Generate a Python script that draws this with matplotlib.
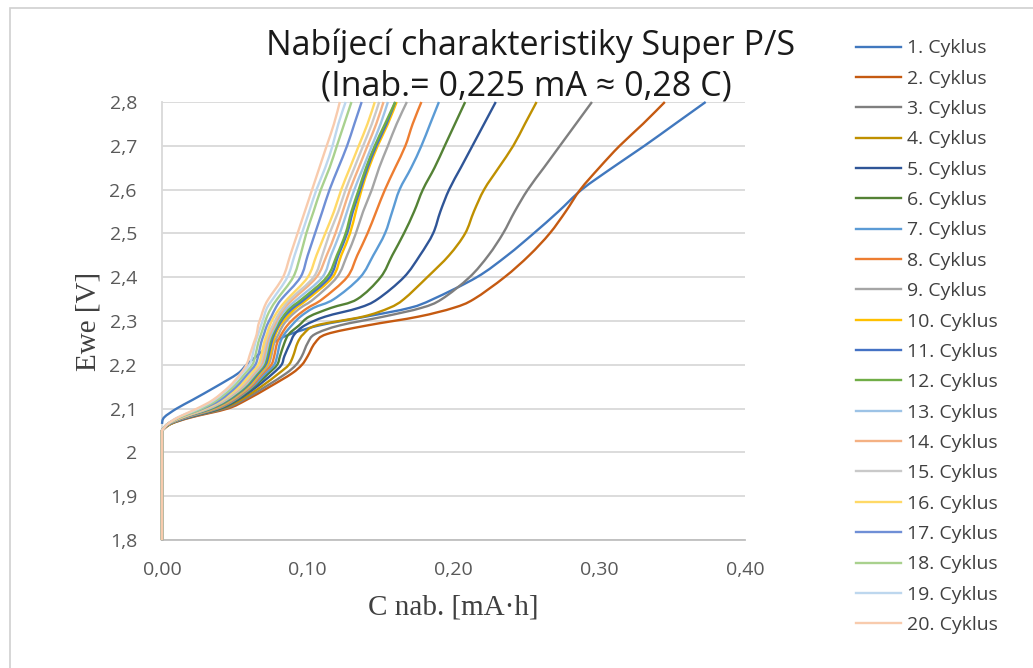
import numpy as np
import matplotlib
matplotlib.use("Agg")
import matplotlib.pyplot as plt
from matplotlib.ticker import FuncFormatter, MultipleLocator
from matplotlib.patches import Rectangle, PathPatch
from matplotlib.path import Path
from matplotlib.lines import Line2D

plt.rcParams['font.family'] = ['Open Sans', 'DejaVu Sans']

nan = np.nan

# voltage levels [V] at which the charge capacity of every cycle was read
ewe = [1.80, 2.05, 2.065, 2.08, 2.10, 2.12, 2.15, 2.18, 2.20, 2.22, 2.25, 2.27, 2.29,
       2.31, 2.33, 2.35, 2.40, 2.45, 2.50, 2.55, 2.60, 2.65, 2.70, 2.75, 2.80]

# charge capacity [mA.h] per cycle at the voltage levels above
cyc01 = [nan, nan, 0.000, 0.0015, 0.010, 0.021, 0.037, 0.052, 0.058, 0.065, 0.076, 0.088, 0.108,
         0.140, 0.170, 0.186, 0.216, 0.237, 0.255, 0.272, 0.288, 0.309, 0.331, 0.352, 0.373]
cyc02 = [0, 0, 0.006, 0.020, 0.045, 0.058, 0.074, 0.089, 0.096, 0.100, 0.105, 0.113, 0.141,
         0.176, 0.200, 0.214, 0.235, 0.252, 0.266, 0.277, 0.287, 0.300, 0.314, 0.330, 0.345]
cyc03 = [0, 0, 0.006, 0.019, 0.043, 0.056, 0.071, 0.085, 0.092, 0.096, 0.100, 0.105, 0.122,
         0.152, 0.178, 0.192, 0.211, 0.224, 0.234, 0.242, 0.251, 0.262, 0.273, 0.284, 0.295]
cyc04 = [0, 0, 0.006, 0.018, 0.041, 0.054, 0.068, 0.080, 0.087, 0.090, 0.093, 0.097, 0.106,
         0.138, 0.156, 0.166, 0.182, 0.197, 0.208, 0.214, 0.221, 0.231, 0.241, 0.249, 0.257]
cyc05 = [0, 0, 0.005, 0.018, 0.040, 0.052, 0.065, 0.076, 0.082, 0.084, 0.088, 0.091, 0.098,
         0.112, 0.135, 0.148, 0.166, 0.177, 0.186, 0.191, 0.197, 0.205, 0.213, 0.221, 0.229]
cyc06 = [0, 0, 0.005, 0.017, 0.039, 0.051, 0.063, 0.073, 0.079, 0.081, 0.084, 0.087, 0.094,
         0.101, 0.116, 0.134, 0.150, 0.158, 0.166, 0.173, 0.179, 0.187, 0.194, 0.201, 0.208]
cyc07 = [0, 0, 0.005, 0.017, 0.038, 0.050, 0.062, 0.071, 0.077, 0.079, 0.081, 0.084, 0.089,
         0.095, 0.104, 0.118, 0.136, 0.145, 0.153, 0.158, 0.163, 0.171, 0.178, 0.184, 0.190]
cyc08 = [0, 0, 0.005, 0.016, 0.037, 0.049, 0.061, 0.069, 0.075, 0.077, 0.079, 0.082, 0.086,
         0.092, 0.100, 0.110, 0.127, 0.134, 0.141, 0.147, 0.153, 0.160, 0.167, 0.172, 0.178]
cyc09 = [0, 0, 0.005, 0.016, 0.036, 0.048, 0.060, 0.068, 0.073, 0.075, 0.077, 0.080, 0.083,
         0.088, 0.095, 0.104, 0.120, 0.127, 0.133, 0.138, 0.144, 0.149, 0.155, 0.161, 0.168]
cyc10 = [0, 0, 0.005, 0.015, 0.035, 0.047, 0.059, 0.067, 0.072, 0.074, 0.076, 0.078, 0.081,
         0.086, 0.092, 0.100, 0.117, 0.123, 0.129, 0.133, 0.137, 0.142, 0.148, 0.155, 0.161]
cyc11 = [0, 0, 0.005, 0.015, 0.034, 0.046, 0.058, 0.066, 0.071, 0.073, 0.075, 0.077, 0.080,
         0.084, 0.090, 0.098, 0.115, 0.121, 0.127, 0.131, 0.136, 0.141, 0.147, 0.154, 0.160]
cyc12 = [0, 0, 0.004, 0.014, 0.033, 0.045, 0.057, 0.065, 0.070, 0.072, 0.074, 0.076, 0.079,
         0.083, 0.088, 0.096, 0.113, 0.120, 0.126, 0.130, 0.135, 0.140, 0.146, 0.153, 0.160]
cyc13 = [0, 0, 0.004, 0.014, 0.032, 0.044, 0.056, 0.064, 0.069, 0.071, 0.073, 0.075, 0.078,
         0.081, 0.086, 0.093, 0.110, 0.116, 0.122, 0.127, 0.132, 0.138, 0.144, 0.150, 0.155]
cyc14 = [0, 0, 0.004, 0.014, 0.031, 0.043, 0.055, 0.063, 0.068, 0.070, 0.072, 0.074, 0.077,
         0.080, 0.084, 0.090, 0.106, 0.113, 0.119, 0.124, 0.129, 0.135, 0.141, 0.147, 0.152]
cyc15 = [0, 0, 0.004, 0.013, 0.030, 0.042, 0.054, 0.062, 0.067, 0.069, 0.071, 0.073, 0.076,
         0.079, 0.083, 0.088, 0.104, 0.110, 0.115, 0.121, 0.126, 0.132, 0.138, 0.144, 0.149]
cyc16 = [0, 0, 0.004, 0.013, 0.029, 0.041, 0.053, 0.061, 0.066, 0.068, 0.070, 0.072, 0.074,
         0.077, 0.081, 0.086, 0.100, 0.106, 0.112, 0.118, 0.123, 0.129, 0.135, 0.141, 0.146]
cyc17 = [0, 0, 0.004, 0.012, 0.028, 0.040, 0.051, 0.059, 0.064, 0.066, 0.068, 0.070, 0.072,
         0.075, 0.078, 0.082, 0.095, 0.100, 0.105, 0.110, 0.115, 0.121, 0.127, 0.132, 0.137]
cyc18 = [0, 0, 0.004, 0.012, 0.027, 0.038, 0.049, 0.057, 0.062, 0.064, 0.066, 0.068, 0.070,
         0.072, 0.075, 0.079, 0.090, 0.095, 0.099, 0.104, 0.109, 0.115, 0.120, 0.125, 0.130]
cyc19 = [0, 0, 0.004, 0.011, 0.025, 0.036, 0.047, 0.055, 0.060, 0.062, 0.064, 0.066, 0.068,
         0.070, 0.072, 0.076, 0.086, 0.091, 0.096, 0.101, 0.106, 0.112, 0.117, 0.121, 0.126]
cyc20 = [0, 0, 0.004, 0.011, 0.024, 0.035, 0.046, 0.054, 0.058, 0.060, 0.063, 0.065, 0.066,
         0.068, 0.070, 0.073, 0.083, 0.088, 0.093, 0.098, 0.103, 0.108, 0.113, 0.118, 0.122]

cycles = [cyc01, cyc02, cyc03, cyc04, cyc05, cyc06, cyc07, cyc08, cyc09, cyc10,
          cyc11, cyc12, cyc13, cyc14, cyc15, cyc16, cyc17, cyc18, cyc19, cyc20]
labels = [f"{i}. Cyklus" for i in range(1, 21)]
colors = ['#4178BE', '#C55A11', '#7F7F7F', '#BF9000', '#2F5597', '#548235',
          '#5B9BD5', '#ED7D31', '#A5A5A5', '#FFC000', '#4472C4', '#70AD47',
          '#9DC3E6', '#F4B183', '#C9C9C9', '#FFD966', '#6F8FD6', '#A9D18E',
          '#BDD7EE', '#F8CBAD']


def smooth_path(x, y):
    # Excel-like smoothed line: Catmull-Rom segments as cubic Bezier curves,
    # straight where the curve runs along the axis (same x)
    x = np.asarray(x, float)
    y = np.asarray(y, float)
    ok = ~np.isnan(x)
    p = np.column_stack([x[ok], y[ok]])
    n = len(p)
    verts = [p[0]]
    codes = [Path.MOVETO]
    for i in range(n - 1):
        if p[i, 0] == p[i + 1, 0]:
            verts.append(p[i + 1])
            codes.append(Path.LINETO)
            continue
        p0 = p[i - 1] if i > 0 and p[i - 1, 0] != p[i, 0] else p[i]
        p3 = p[i + 2] if i + 2 < n else p[i + 1]
        c1 = p[i] + (p[i + 1] - p0) / 6
        c2 = p[i + 1] - (p3 - p[i]) / 6
        verts += [c1, c2, p[i + 1]]
        codes += [Path.CURVE4] * 3
    return Path(verts, codes)


fig = plt.figure(figsize=(10.33, 6.68), dpi=100)
ax = fig.add_axes([0.1568, 0.1916, 0.5644, 0.6557])

handles = []
for cap, lab, col in zip(cycles, labels, colors):
    ax.add_patch(PathPatch(smooth_path(cap, ewe), fill=False, edgecolor=col, lw=1.7,
                           capstyle='butt', joinstyle='round', clip_on=False, zorder=3))
    handles.append(Line2D([], [], color=col, lw=1.7, label=lab))

ax.set_xlim(0, 0.40)
ax.set_ylim(1.8, 2.8)
ax.xaxis.set_major_locator(MultipleLocator(0.1))
ax.yaxis.set_major_locator(MultipleLocator(0.1))
ax.xaxis.set_major_formatter(FuncFormatter(lambda v, p: f"{v:.2f}".replace('.', ',')))


def yfmt(v, p):
    s = f"{v:.1f}"
    if s.endswith('.0'):
        s = s[:-2]
    return s.replace('.', ',')


ax.yaxis.set_major_formatter(FuncFormatter(yfmt))
ax.grid(axis='y', color='#D9D9D9', lw=1.3)
ax.set_axisbelow(True)
for side in ['top', 'right']:
    ax.spines[side].set_visible(False)
ax.spines['left'].set_color('#D9D9D9')
ax.spines['bottom'].set_color('#BFBFBF')
ax.spines['left'].set_linewidth(1.3)
ax.spines['bottom'].set_linewidth(1.3)
ax.tick_params(length=0, labelsize=14, labelcolor='#595959')
ax.tick_params(axis='x', pad=15)
ax.tick_params(axis='y', pad=18)

ax.set_xlabel("C nab. [mA·h]", family='Liberation Serif', fontsize=21, color='#404040', labelpad=11)
ax.set_ylabel("Ewe [V]", family='Liberation Serif', fontsize=21, color='#404040', labelpad=6)

fig.text(0.514, 0.931, "Nabíjecí charakteristiky Super P/S", ha='center', va='center',
         fontsize=24.5, color='#1a1a1a')
fig.text(0.510, 0.870, "(Inab.= 0,225 mA ≈ 0,28 C)", ha='center', va='center',
         fontsize=24.5, color='#1a1a1a')

ax.legend(handles=handles, loc='upper left', bbox_to_anchor=(0.829, 0.941),
          bbox_transform=fig.transFigure, frameon=False, fontsize=14, labelcolor='#404040',
          handlelength=2.3, handletextpad=0.28, labelspacing=0.635, borderaxespad=0,
          borderpad=0)

fig.patches.append(Rectangle((10 / 1033, -0.2), 1.2, 1.2 - 8 / 668, transform=fig.transFigure,
                             fill=False, edgecolor='#D0D0D0', lw=1.2))

fig.savefig("out.png", dpi=100)
